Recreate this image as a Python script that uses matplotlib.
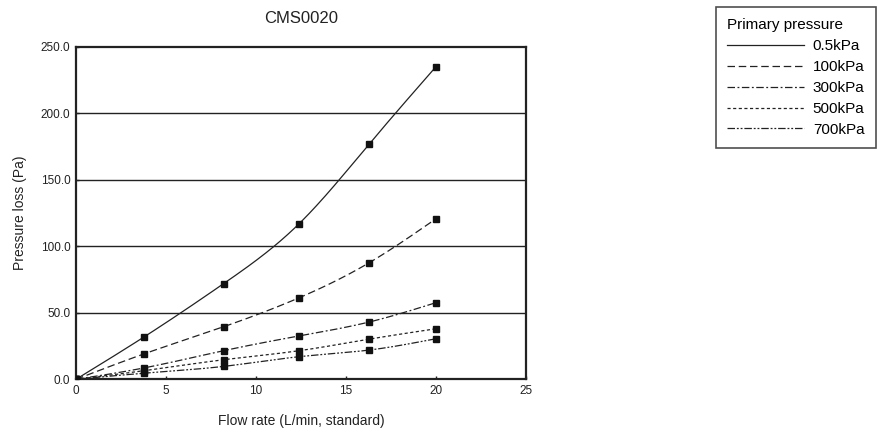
import numpy as np
import matplotlib
matplotlib.use("Agg")
import matplotlib.pyplot as plt
from matplotlib.lines import Line2D

plt.rcParams['font.family'] = ['Liberation Sans', 'DejaVu Sans']

# data
flow = [0, 3.8, 8.2, 12.4, 16.3, 20.0]
p_05 = [0, 32.0, 71.9, 117.0, 177.0, 235.0]
p_100 = [0, 19.2, 39.5, 61.3, 87.7, 120.7]
p_300 = [0, 8.6, 21.5, 32.6, 43.1, 57.6]
p_500 = [0, 6.5, 14.7, 21.5, 30.2, 38.0]
p_700 = [0, 4.6, 9.7, 17.0, 22.0, 30.5]
labels = ['0.5kPa', '100kPa', '300kPa', '500kPa', '700kPa']
styles = ['-', (0, (6, 3)), (0, (6, 2, 1.5, 2)), (0, (2.5, 2)), (0, (6, 1.5, 1.5, 1.5, 1.5, 1.5))]


def spline(x, y, n=200):
    # natural cubic spline, just for drawing a smooth curve through the points
    x = np.asarray(x, float); y = np.asarray(y, float)
    k = len(x)
    h = np.diff(x)
    A = np.zeros((k, k)); b = np.zeros(k)
    A[0, 0] = A[-1, -1] = 1
    for i in range(1, k - 1):
        A[i, i - 1] = h[i - 1]
        A[i, i] = 2 * (h[i - 1] + h[i])
        A[i, i + 1] = h[i]
        b[i] = 6 * ((y[i + 1] - y[i]) / h[i] - (y[i] - y[i - 1]) / h[i - 1])
    M = np.linalg.solve(A, b)
    xs = np.linspace(x[0], x[-1], n)
    idx = np.clip(np.searchsorted(x, xs) - 1, 0, k - 2)
    x0, x1 = x[idx], x[idx + 1]
    hh = x1 - x0
    ys = (M[idx] * (x1 - xs) ** 3 / (6 * hh) + M[idx + 1] * (xs - x0) ** 3 / (6 * hh)
          + (y[idx] / hh - M[idx] * hh / 6) * (x1 - xs)
          + (y[idx + 1] / hh - M[idx + 1] * hh / 6) * (xs - x0))
    return xs, ys


fig = plt.figure(figsize=(8.79, 4.36), dpi=100)
ax = fig.add_axes([76 / 879, 1 - 379.3 / 436, 450 / 879, (379.3 - 46.7) / 436])

handles = []
for vals, ls, lab in zip([p_05, p_100, p_300, p_500, p_700], styles, labels):
    xs, ys = spline(flow, vals)
    ax.plot(xs, ys, color='#222222', lw=0.9, linestyle=ls, zorder=3)
    ax.plot(flow, vals, linestyle='none', marker='s', ms=4.6, color='#111111', zorder=4)
    handles.append(Line2D([], [], color='#222222', lw=0.9, linestyle=ls, label=lab))

ax.set_xlim(0, 25)
ax.set_ylim(0, 250)
ax.set_xticks([0, 5, 10, 15, 20, 25])
ax.set_yticks([0, 50, 100, 150, 200, 250])
ax.set_yticklabels([f"{v:.1f}" for v in [0, 50, 100, 150, 200, 250]])
ax.tick_params(direction='in', length=2.5, width=1, labelsize=8.5, colors='#222222', pad=4)
for v in [50, 100, 150, 200]:
    ax.axhline(v, color='#222222', lw=1, zorder=1)
for s in ax.spines.values():
    s.set_linewidth(1.6)
    s.set_color('#222222')

ax.set_title('CMS0020', fontsize=12, color='#222222', pad=17)
ax.set_xlabel('Flow rate (L/min, standard)', fontsize=10, color='#222222', labelpad=12)
ax.set_ylabel('Pressure loss (Pa)', fontsize=10, color='#222222', labelpad=10)

leg = fig.legend(handles=handles, title='Primary pressure', loc='upper right',
                 bbox_to_anchor=(876 / 879, 1 - 7 / 436), fontsize=11, title_fontsize=11,
                 handlelength=5.0, handletextpad=0.6, labelspacing=0.45,
                 frameon=True, fancybox=False, borderpad=0.75, borderaxespad=0,
                 alignment='left')
leg.get_frame().set_edgecolor('#222222')
leg.get_frame().set_linewidth(1.2)

fig.savefig('out.png', dpi=100)
